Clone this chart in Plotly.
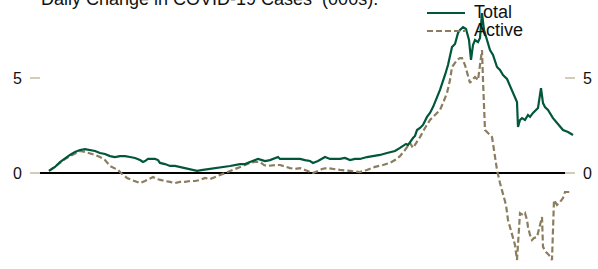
import plotly.graph_objects as go

# ---- data (x = day index, y = thousands of cases) ----
total_day = [0,6,11,16,21,26,31,36,41,46,51,56,61,66,71,76,81,86,91,94,96,99,101,106,109,111,116,121,126,131,136,141,148,154,161,171,181,191,196,201,206,209,213,216,221,226,229,231,241,251,256,261,264,269,276,281,286,291,296,301,306,311,318,326,331,338,346,351,354,357,359,361,364,366,368,371,374,378,381,384,387,391,396,399,403,406,409,411,414,417,420,422,424,426,429,431,433,435,438,441,444,448,451,454,458,461,464,466,468,469,471,473,476,479,481,484,487,489,492,494,496,499,504,509,514,519,524]
total_val = [0.11,0.32,0.58,0.79,0.95,1.11,1.21,1.26,1.21,1.16,1.05,1.00,0.89,0.84,0.89,0.89,0.84,0.79,0.68,0.58,0.63,0.74,0.74,0.74,0.68,0.53,0.47,0.37,0.37,0.32,0.26,0.21,0.11,0.16,0.21,0.26,0.37,0.47,0.47,0.58,0.68,0.74,0.68,0.63,0.68,0.79,0.84,0.74,0.74,0.74,0.68,0.63,0.53,0.63,0.84,0.74,0.74,0.74,0.79,0.68,0.74,0.74,0.84,0.89,0.95,1.05,1.16,1.32,1.42,1.53,1.47,1.63,1.84,1.95,2.26,2.37,2.53,2.95,3.16,3.47,3.84,4.37,5.16,5.68,6.63,6.79,7.37,7.53,7.68,7.58,7.00,5.95,6.74,7.00,6.89,7.11,8.42,7.53,7.00,6.47,6.21,5.58,5.42,5.16,4.95,4.58,4.26,4.00,3.74,2.42,2.79,2.89,2.79,3.05,2.95,3.16,3.32,3.42,4.47,3.68,3.47,3.32,2.89,2.58,2.26,2.16,2.00]

active_day = [0,6,11,16,21,26,31,36,41,46,51,56,61,66,69,73,78,83,87,91,96,101,104,108,111,116,121,126,131,136,141,146,151,156,161,164,168,171,176,181,186,191,196,201,206,211,215,218,223,227,231,236,241,246,251,256,261,264,269,273,278,283,291,301,311,318,326,334,341,346,351,356,361,364,366,371,376,381,386,391,394,398,401,403,406,408,411,413,416,418,420,421,423,426,429,431,433,434,436,439,443,445,448,451,454,457,459,461,464,466,468,470,471,474,476,478,479,481,483,485,488,491,493,494,497,500,503,505,508,511,514,516,521]
active_val = [0.11,0.32,0.53,0.74,0.89,1.05,1.16,1.11,1.05,0.95,0.84,0.68,0.37,0.26,0.16,-0.05,-0.26,-0.37,-0.47,-0.53,-0.42,-0.26,-0.21,-0.32,-0.37,-0.42,-0.47,-0.53,-0.47,-0.47,-0.42,-0.42,-0.37,-0.26,-0.32,-0.26,-0.16,-0.11,0.00,0.11,0.21,0.32,0.42,0.53,0.58,0.58,0.42,0.37,0.42,0.42,0.42,0.32,0.26,0.21,0.26,0.16,0.05,0.00,0.11,0.21,0.26,0.21,0.16,0.11,0.05,0.16,0.32,0.42,0.53,0.68,0.89,1.21,1.58,1.32,1.47,1.89,2.37,2.79,3.05,3.32,3.68,4.21,4.89,5.58,5.79,5.95,6.05,6.05,5.68,5.32,4.89,4.74,4.89,5.05,4.89,5.63,6.47,4.89,2.26,2.11,1.89,1.21,0.16,-0.53,-1.05,-1.68,-2.47,-2.89,-3.37,-3.79,-4.58,-3.00,-2.11,-2.21,-2.11,-2.47,-2.84,-3.26,-3.53,-3.42,-3.37,-2.74,-2.32,-3.89,-4.16,-4.32,-4.58,-1.42,-1.68,-1.53,-1.32,-1.00,-1.00]

tick_vals = [0, 5]
tick_text = ["0", "5"]

title_text = "Daily Change in COVID-19 Cases\u00a0 (000s)."
legend_names = ["Total", "Active"]

GREEN = "#00573a"
TAN = "#8b7d5e"
TICK = "#d3ccb8"
W, H = 598, 269
L, R = 30, 23

fig = go.Figure()
fig.add_trace(go.Scatter(x=active_day, y=active_val, mode="lines", name=legend_names[1],
                         line=dict(color=TAN, width=2.2, dash="6px,3px"), showlegend=False))
fig.add_trace(go.Scatter(x=total_day, y=total_val, mode="lines", name=legend_names[0],
                         line=dict(color=GREEN, width=2.2), showlegend=False))
fig.add_trace(go.Scatter(x=total_day, y=total_val, mode="lines", yaxis="y2",
                         line=dict(color="rgba(0,0,0,0)", width=0), showlegend=False, hoverinfo="skip"))

yr = [-(H - 173) / 19.0, 173 / 19.0]
axis_common = dict(range=yr, tickvals=tick_vals, ticktext=tick_text, ticks="inside", ticklen=10,
                   tickcolor=TICK, tickwidth=1.5, showgrid=False, showline=False,
                   tickfont=dict(family="Liberation Sans, Arial", size=16, color="#111"))

fig.update_layout(
    width=W, height=H,
    margin=dict(l=L, r=R, t=0, b=0),
    paper_bgcolor="white", plot_bgcolor="white",
    xaxis=dict(range=[-19, 526], showticklabels=False, showgrid=False, zeroline=False, ticks=""),
    yaxis=dict(**axis_common, zeroline=True, zerolinecolor="#000", zerolinewidth=1.8,
               ticklabelstandoff=7),
    yaxis2=dict(**axis_common, overlaying="y", side="right", zeroline=False, ticklabelstandoff=7),
)

def px_x(p):
    return (p - L) / (W - L - R)

def px_y(p):
    return 1 - p / H

# title (partially cut off at top, as in reference)
fig.add_annotation(text=title_text, xref="paper", yref="paper", x=px_x(39), y=px_y(11),
                   xanchor="left", yanchor="bottom", showarrow=False,
                   font=dict(family="Liberation Sans, Arial", size=18, color="#111"))

# legend
for i, (name, col, dash, ypix) in enumerate([(legend_names[0], GREEN, "solid", 13),
                                             (legend_names[1], TAN, "6px,3px", 31)]):
    fig.add_shape(type="line", xref="paper", yref="paper", x0=px_x(427), x1=px_x(465),
                  y0=px_y(ypix), y1=px_y(ypix), line=dict(color=col, width=2.2, dash=dash))
    fig.add_annotation(text=name, xref="paper", yref="paper", x=px_x(472), y=px_y(ypix - 1),
                       xanchor="left", yanchor="middle", showarrow=False,
                       font=dict(family="Liberation Sans, Arial", size=18, color="#111"))

fig.write_html("out.html", config={"displayModeBar": False},
               post_script="document.body.style.margin='0';document.body.style.overflow='hidden';")
